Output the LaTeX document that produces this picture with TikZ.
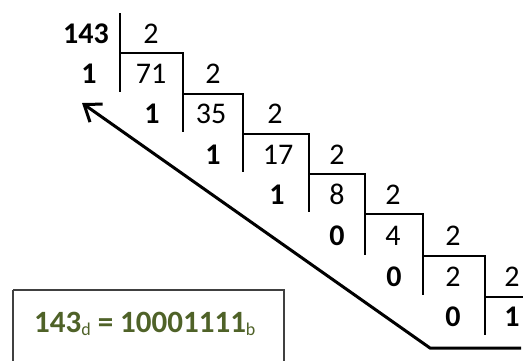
\documentclass[tikz,border=0pt]{standalone}
\usepackage{fontspec}
\setmainfont{Carlito}
\usetikzlibrary{arrows.meta}
\definecolor{resgreen}{HTML}{4F6228}
\definecolor{boxgray}{HTML}{404040}
\newcommand\lowsub[1]{\raisebox{-3.5pt}{\fontsize{18}{19}\selectfont\mdseries #1}}
\begin{document}
\begin{tikzpicture}[x=1pt,y=-1pt,
  num/.style={font=\fontsize{30}{31}\selectfont, anchor=base, inner sep=0pt},
  rem/.style={num, font=\fontsize{30}{31}\selectfont\bfseries},
  stair/.style={line width=1.4pt, black},
  bigarrow/.style={line width=3pt, -{Straight Barb[length=15pt,width=22pt]}},
  resbox/.style={draw=boxgray, line width=1.5pt},
  restext/.style={anchor=base west, inner sep=0pt, text=resgreen, font=\fontsize{31}{33}\selectfont\bfseries}]
\useasboundingbox (0,0) rectangle (523,360);
% numbers
\node[rem] (n143) at (86,43) {143};
\node[num] (d1) at (151,43) {2};
\node[rem] (r1) at (89,83) {1};
\node[num] (n71) at (151,83) {71};
\node[num] (d2) at (213,83) {2};
\node[rem] (r2) at (152,123) {1};
\node[num] (n35) at (211,123) {35};
\node[num] (d3) at (275,123) {2};
\node[rem] (r3) at (213,164) {1};
\node[num] (n17) at (278,164) {17};
\node[num] (d4) at (337,164) {2};
\node[rem] (r4) at (277,204) {1};
\node[num] (n8) at (337,204) {8};
\node[num] (d5) at (393,204) {2};
\node[rem] (r5) at (337,245) {0};
\node[num] (n4) at (393,245) {4};
\node[num] (d6) at (453,245) {2};
\node[rem] (r6) at (394,286) {0};
\node[num] (n2) at (453,286) {2};
\node[num] (d7) at (512,286) {2};
\node[rem] (r7) at (453,326) {0};
\node[rem] (n1) at (512,326) {1};
% staircase
\draw[stair] (120,13) -- (120,92);
\draw[stair] (120,53) -- (183,53) -- (183,132);
\draw[stair] (183,94) -- (243,94) -- (243,172);
\draw[stair] (243,134) -- (309,134) -- (309,212);
\draw[stair] (309,174) -- (365,174) -- (365,255);
\draw[stair] (365,214) -- (423,214) -- (423,295);
\draw[stair] (423,256) -- (485,256) -- (485,335);
\draw[stair] (485,297) -- (524,297);
% arrow
\coordinate (aend) at (521,348);
\coordinate (abend) at (430,348);
\coordinate (atip) at (82,103);
\draw[bigarrow] (aend) -- (abend) -- (atip);
% result box
\draw[resbox] (13,290) -- (13,364) (13,290) -- (284,290) -- (284,364);
\node[restext] (res) at (34,332) {143\lowsub{d} = 10001111\lowsub{b}};
\end{tikzpicture}
\end{document}
